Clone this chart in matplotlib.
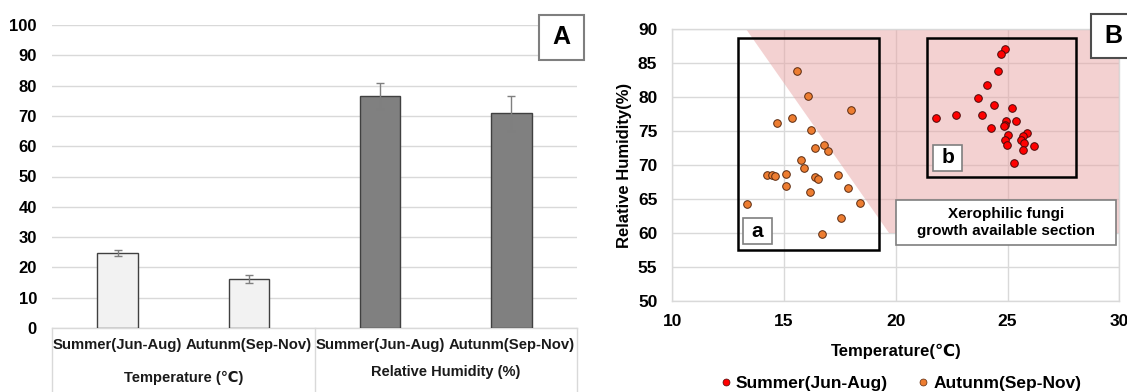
import matplotlib
matplotlib.use("Agg")
import matplotlib.pyplot as plt
from matplotlib.patches import Rectangle, Polygon
from matplotlib.lines import Line2D

plt.rcParams['font.family'] = ['Liberation Sans', 'DejaVu Sans']
plt.rcParams['font.weight'] = 'bold'

# ---------------- Data ----------------
bar_labels = ["Summer(Jun-Aug)", "Autunm(Sep-Nov)", "Summer(Jun-Aug)", "Autunm(Sep-Nov)"]
group_labels = ["Temperature (\u2103)", "Relative Humidity (%)"]
bar_values = [24.7, 16.2, 76.7, 70.8]
bar_errors = [1.1, 1.2, 4.3, 5.7]

summer_temp = [24.89, 24.69, 24.59, 24.09, 23.69, 24.39, 25.19, 21.78, 22.68, 23.87,
               24.92, 25.39, 24.87, 24.82, 24.25, 25.03, 25.86, 25.71, 24.87, 25.59,
               25.72, 24.96, 26.18, 25.71, 25.29]
summer_rh = [87.05, 86.41, 83.86, 81.75, 79.93, 78.81, 78.45, 76.98, 77.33, 77.33,
             76.54, 76.50, 75.86, 75.70, 75.51, 74.43, 74.77, 74.33, 73.70, 73.70,
             73.30, 72.92, 72.81, 72.22, 70.35]

autumn_temp = [15.59, 16.09, 17.98, 14.67, 15.37, 16.19, 16.37, 16.79, 16.98, 15.74,
               15.89, 14.25, 14.46, 14.60, 15.07, 16.37, 16.50, 17.43, 15.07, 16.16,
               17.88, 13.36, 18.40, 17.56, 16.68]
autumn_rh = [83.86, 80.13, 78.07, 76.25, 76.98, 75.17, 72.56, 72.92, 72.08, 70.70,
             69.62, 68.50, 68.50, 68.40, 68.73, 68.20, 68.00, 68.50, 66.92, 66.04,
             66.67, 64.23, 64.46, 62.25, 59.81]

series_names = ["Summer(Jun-Aug)", "Autunm(Sep-Nov)"]

# xerophilic region (temperature, humidity) vertices
region_temp = [13.3, 30.0, 30.0, 19.7]
region_rh = [90.0, 90.0, 60.0, 60.0]

W, H = 1127, 392
fig = plt.figure(figsize=(W / 100, H / 100), dpi=100)

grid_c = '#D9D9D9'
PX = 0.72  # points per pixel at 100 dpi

# ---------------- Panel A ----------------
axA = fig.add_axes([52 / W, 1 - 328 / H, (577 - 52) / W, (328 - 25) / H])
xs = list(range(len(bar_values)))
colors = ['#F2F2F2', '#F2F2F2', '#808080', '#808080']
axA.bar(xs, bar_values, width=0.31, color=colors, edgecolor='#404040', linewidth=1.0, zorder=3)
axA.errorbar(xs, bar_values, yerr=bar_errors, fmt='none', ecolor='#7F7F7F',
             elinewidth=1.0, capsize=3, capthick=1.0, zorder=4)
axA.set_xlim(-0.5, 3.5)
axA.set_ylim(0, 100)
axA.set_yticks(range(0, 101, 10))
axA.yaxis.grid(True, color=grid_c, linewidth=1.0, zorder=0)
axA.set_axisbelow(True)
for s in ['top', 'right', 'left']:
    axA.spines[s].set_visible(False)
axA.spines['bottom'].set_color(grid_c)
axA.spines['bottom'].set_linewidth(1.0)
axA.tick_params(axis='y', length=0, pad=15 * PX, labelsize=12)
axA.tick_params(axis='x', length=0, labelbottom=False)
for lab in axA.get_yticklabels():
    lab.set_fontweight('bold')

tr = axA.get_xaxis_transform()
for x, lab in zip(xs, bar_labels):
    axA.text(x, -0.056, lab, transform=tr, ha='center', va='center', fontsize=10.7,
             fontweight='bold', color='#1a1a1a')
axA.text(0.5, -0.165, group_labels[0], transform=tr, ha='center', va='center',
         fontsize=10.5, fontweight='bold', color='#1a1a1a')
axA.text(2.5, -0.145, group_labels[1], transform=tr, ha='center', va='center',
         fontsize=10.5, fontweight='bold', color='#1a1a1a')
for xf in [0.0, 0.5, 1.0]:
    axA.add_line(Line2D([xf, xf], [0, -0.215], transform=axA.transAxes, color=grid_c,
                        linewidth=1.0, clip_on=False))

# A label box
fig.patches.append(Rectangle((539 / W, 1 - 60 / H), 45 / W, 45 / H, transform=fig.transFigure,
                             facecolor='white', edgecolor='#7F7F7F', linewidth=1.5))
fig.text(561.5 / W, 1 - 37.5 / H, "A", ha='center', va='center', fontsize=18, fontweight='bold')

# ---------------- Panel B ----------------
axB = fig.add_axes([672.3 / W, 1 - 301 / H, (1119.3 - 672.3) / W, (301 - 29.3) / H])
axB.set_xlim(10, 30)
axB.set_ylim(50, 90)
axB.set_xticks(range(10, 31, 5))
axB.set_yticks(range(50, 91, 5))
axB.grid(True, color=grid_c, linewidth=1.0, zorder=0)
axB.set_axisbelow(True)
for s in axB.spines.values():
    s.set_color(grid_c)
    s.set_linewidth(1.0)
axB.tick_params(length=0, labelsize=12.5)
axB.tick_params(axis='y', pad=15 * PX)
axB.tick_params(axis='x', pad=9)
for lab in axB.get_xticklabels() + axB.get_yticklabels():
    lab.set_fontweight('bold')

axB.add_patch(Polygon(list(zip(region_temp, region_rh)), closed=True, facecolor='#E8A5A5',
                      alpha=0.5, edgecolor='none', zorder=1))

# group boxes
axB.add_patch(Rectangle((12.93, 57.5), 19.26 - 12.93, 88.77 - 57.5, facecolor='none',
                        edgecolor='black', linewidth=1.8, zorder=2))
axB.add_patch(Rectangle((21.38, 68.25), 28.06 - 21.38, 88.77 - 68.25, facecolor='none',
                        edgecolor='black', linewidth=1.8, zorder=2))

axB.scatter(summer_temp, summer_rh, s=30, color='#FF0000', edgecolor='#4a0a0a',
            linewidth=0.7, zorder=5, label=series_names[0])
axB.scatter(autumn_temp, autumn_rh, s=30, color='#ED7D31', edgecolor='#5a2a10',
            linewidth=0.7, zorder=5, label=series_names[1])

# small label boxes
axB.add_patch(Rectangle((13.18, 58.38), 14.45 - 13.18, 62.16 - 58.38, facecolor='white',
                        edgecolor='#7F7F7F', linewidth=1.2, zorder=6))
axB.text((13.18 + 14.45) / 2, (58.38 + 62.16) / 2, "a", ha='center', va='center',
         fontsize=15, fontweight='bold', zorder=7)
axB.add_patch(Rectangle((21.68, 69.13), 22.95 - 21.68, 73.0 - 69.13, facecolor='white',
                        edgecolor='#7F7F7F', linewidth=1.2, zorder=6))
axB.text((21.68 + 22.95) / 2, (69.13 + 73.0) / 2, "b", ha='center', va='center',
         fontsize=15, fontweight='bold', zorder=7)

# xerophilic text box
axB.add_patch(Rectangle((20.03, 58.29), 29.87 - 20.03, 64.93 - 58.29, facecolor='white',
                        edgecolor='#7F7F7F', linewidth=1.2, zorder=6, clip_on=False))
axB.text(24.95, 61.6, "Xerophilic fungi\ngrowth available section", ha='center', va='center',
         fontsize=11, fontweight='bold', zorder=7, linespacing=1.3)

axB.set_xlabel("Temperature(\u2103)", fontsize=12, fontweight='bold', labelpad=11)
axB.set_ylabel("Relative Humidity(%)", fontsize=12, fontweight='bold', labelpad=4)

# B label box
fig.patches.append(Rectangle((1090.5 / W, 1 - 58 / H), 45 / W, 44 / H, transform=fig.transFigure,
                             facecolor='white', edgecolor='#4d4d4d', linewidth=1.5))
fig.text(1113 / W, 1 - 36 / H, "B", ha='center', va='center', fontsize=18, fontweight='bold')

leg = fig.legend(handles=[
    Line2D([], [], marker='o', linestyle='none', markersize=5, markerfacecolor='#FF0000',
           markeredgecolor='#4a0a0a', markeredgewidth=0.5, label=series_names[0]),
    Line2D([], [], marker='o', linestyle='none', markersize=5, markerfacecolor='#ED7D31',
           markeredgecolor='#5a2a10', markeredgewidth=0.5, label=series_names[1])],
    loc='center', bbox_to_anchor=(899 / W, 1 - 383 / H), ncol=2, frameon=False,
    prop={'size': 12.5, 'weight': 'bold'}, handletextpad=0.1, columnspacing=1.5,
    handlelength=1.0, borderpad=0)

fig.savefig("out.png", dpi=100)
